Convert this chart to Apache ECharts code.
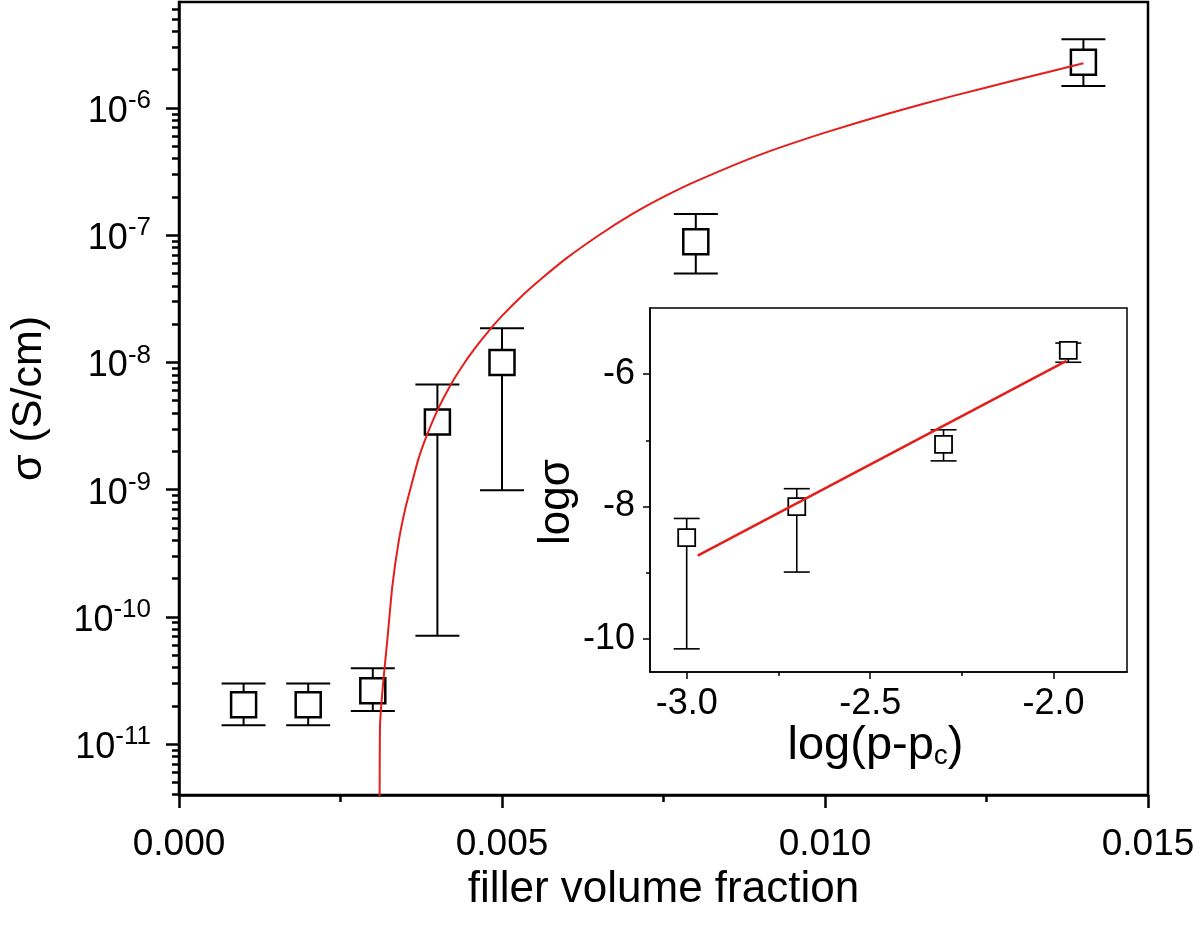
<!DOCTYPE html>
<html><head><meta charset="utf-8">
<script src="https://cdn.jsdelivr.net/npm/echarts@6/dist/echarts.min.js"></script>
<style>html,body{margin:0;padding:0;background:#fff}#c{width:1200px;height:930px}</style>
</head><body><div id="c"></div>
<script>
// ---- main plot data ----
const mainX = [0.001, 0.002, 0.003, 0.004, 0.005, 0.008, 0.014];
const mainSigma = [2.04e-11, 2.04e-11, 2.63e-11, 3.4e-9, 1.0e-8, 8.9e-8, 2.29e-6];
const mainErrHigh = [3.0e-11, 3.0e-11, 3.94e-11, 6.7e-9, 1.86e-8, 1.47e-7, 3.47e-6];
const mainErrLow = [1.41e-11, 1.41e-11, 1.82e-11, 7.1e-11, 9.9e-10, 5.0e-8, 1.49e-6];
// fitted percolation curve
const fitX = [0.003105, 0.00311, 0.00313, 0.003165, 0.003225, 0.0033, 0.0034, 0.0035, 0.0036, 0.0037, 0.0038, 0.0040, 0.0042, 0.0044, 0.0046, 0.0048, 0.0050, 0.0053, 0.0056, 0.006, 0.0065, 0.007, 0.0075, 0.008, 0.009, 0.010, 0.011, 0.012, 0.013, 0.014];
const fitSigma = [3e-12, 1.3e-11, 2.0e-11, 3.2e-11, 6.6e-11, 1.7e-10, 3.9e-10, 7.0e-10, 1.1e-9, 1.7e-9, 2.4e-9, 4.2e-9, 6.6e-9, 9.6e-9, 1.33e-8, 1.78e-8, 2.32e-8, 3.3e-8, 4.5e-8, 6.6e-8, 1.0e-7, 1.45e-7, 2.0e-7, 2.65e-7, 4.3e-7, 6.4e-7, 9.1e-7, 1.25e-6, 1.68e-6, 2.25e-6];
// tick labels
const mainXTicks = [0, 0.005, 0.010, 0.015];
const mainYDecades = [-11, -10, -9, -8, -7, -6];

// ---- inset data ----
const insetX = [-3.0, -2.70, -2.30, -1.96];
const insetLogSigma = [-8.47, -8.00, -7.06, -5.64];
const insetErrHigh = [-8.18, -7.73, -6.84, -5.53];
const insetErrLow = [-10.15, -8.99, -7.31, -5.82];
const insetFitX = [-2.97, -1.965];
const insetFitY = [-8.74, -5.80];
const insetXTicks = [-3.0, -2.5, -2.0];
const insetXMinor = [-2.75, -2.25];
const insetYTicks = [-10, -8, -6];
const insetYMinor = [-9, -7];

const FONT = '"Liberation Sans", Arial, Helvetica, sans-serif';
const majorY = mainYDecades.map(e => Math.pow(10, e));
const minorY = [];
for (let e = -12; e <= -6; e++) for (let k = 2; k <= 9; k++) minorY.push(k * Math.pow(10, e));

function errRender(capHalf, lw) {
  return function (params, api) {
    const x = api.value(0), lo = api.value(1), hi = api.value(2);
    const a = api.coord([x, hi]), b = api.coord([x, lo]);
    const st = { stroke: '#000', lineWidth: lw, fill: null };
    return { type: 'group', children: [
      { type: 'line', shape: { x1: a[0], y1: a[1], x2: b[0], y2: b[1] }, style: st },
      { type: 'line', shape: { x1: a[0] - capHalf, y1: a[1], x2: a[0] + capHalf, y2: a[1] }, style: st },
      { type: 'line', shape: { x1: b[0] - capHalf, y1: b[1], x2: b[0] + capHalf, y2: b[1] }, style: st }
    ]};
  };
}

const blk = '#000';
const yMin = Math.pow(10, -11.4), yMax = Math.pow(10, -5.167);

const option = {
  animation: false,
  backgroundColor: '#fff',
  textStyle: { fontFamily: FONT },
  grid: [
    { left: 178, right: 52, top: 2, bottom: 135, show: true, borderColor: blk, borderWidth: 2.5, backgroundColor: 'transparent' },
    { left: 650, right: 73, top: 308, bottom: 258, show: true, borderColor: blk, borderWidth: 1.5, backgroundColor: '#fff' }
  ],
  xAxis: [
    { type: 'value', gridIndex: 0, min: 0, max: 0.015, interval: 0.005,
      axisLine: { lineStyle: { color: blk, width: 2.5 } },
      axisTick: { length: 13, lineStyle: { color: blk, width: 2.5 } },
      minorTick: { show: true, splitNumber: 2, length: 7, lineStyle: { color: blk, width: 2.5 } },
      splitLine: { show: false }, minorSplitLine: { show: false },
      axisLabel: { customValues: mainXTicks, formatter: v => v.toFixed(3), fontSize: 37, color: blk, margin: 31, fontFamily: FONT },
      name: 'filler volume fraction', nameLocation: 'middle', nameGap: 60,
      nameTextStyle: { fontSize: 44, color: blk, fontFamily: FONT } },
    { type: 'value', gridIndex: 1, min: -3.1, max: -1.8,
      axisLine: { lineStyle: { color: blk, width: 1.5 } },
      axisTick: { customValues: insetXTicks, length: 7, lineStyle: { color: blk, width: 1.5 } },
      axisLabel: { customValues: insetXTicks, formatter: v => v.toFixed(1), fontSize: 36, color: blk, margin: 14, fontFamily: FONT },
      splitLine: { show: false },
      name: 'log(p-p{s|c})', nameLocation: 'middle', nameGap: 50,
      nameTextStyle: { fontSize: 47, color: blk, fontFamily: FONT, padding: [0, 26, 0, 0],
        rich: { s: { fontSize: 28, color: blk, fontFamily: FONT, padding: [20, 0, 0, 0] } } } },
    { type: 'value', gridIndex: 1, min: -3.1, max: -1.8, position: 'bottom',
      axisLine: { show: false }, axisLabel: { show: false }, splitLine: { show: false },
      axisTick: { customValues: insetXMinor, length: 4, lineStyle: { color: blk, width: 1.5 } } }
  ],
  yAxis: [
    { type: 'log', gridIndex: 0, min: yMin, max: yMax, position: 'left',
      axisLine: { lineStyle: { color: blk, width: 2.5 } },
      axisTick: { customValues: majorY, length: 13, lineStyle: { color: blk, width: 2.5 } },
      axisLabel: { customValues: majorY, margin: 28, color: blk,
        formatter: v => '{m|10}{e|' + Math.round(Math.log10(v)) + '}',
        rich: { m: { fontSize: 36, color: blk, fontFamily: FONT, padding: [8, 0, 0, 0] },
                e: { fontSize: 26, color: blk, fontFamily: FONT, padding: [0, 0, 14, 0] } } },
      splitLine: { show: false }, minorTick: { show: false },
      name: 'σ (S/cm)', nameLocation: 'middle', nameRotate: 90, nameGap: 128,
      nameTextStyle: { fontSize: 43, color: blk, fontFamily: FONT } },
    { type: 'log', gridIndex: 0, min: yMin, max: yMax, position: 'left',
      axisLine: { show: false }, axisLabel: { show: false }, splitLine: { show: false },
      axisTick: { customValues: minorY, length: 7, lineStyle: { color: blk, width: 2.5 } } },
    { type: 'value', gridIndex: 1, min: -10.5, max: -5, position: 'left',
      axisLine: { lineStyle: { color: blk, width: 1.5 } },
      axisTick: { customValues: insetYTicks, length: 7, lineStyle: { color: blk, width: 1.5 } },
      axisLabel: { customValues: insetYTicks, fontSize: 36, color: blk, margin: 15, fontFamily: FONT },
      splitLine: { show: false },
      name: 'logσ', nameLocation: 'middle', nameRotate: 90, nameGap: 68,
      nameTextStyle: { fontSize: 44, color: blk, fontFamily: FONT, padding: [0, 24, 0, 0] } },
    { type: 'value', gridIndex: 1, min: -10.5, max: -5, position: 'left',
      axisLine: { show: false }, axisLabel: { show: false }, splitLine: { show: false },
      axisTick: { customValues: insetYMinor, length: 4, lineStyle: { color: blk, width: 1.5 } } }
  ],
  series: [
    { type: 'custom', xAxisIndex: 0, yAxisIndex: 0, z: 2, renderItem: errRender(22, 2),
      encode: { x: 0, y: [1, 2] },
      data: mainX.map((x, i) => [x, mainErrLow[i], mainErrHigh[i]]) },
    { type: 'scatter', xAxisIndex: 0, yAxisIndex: 0, z: 3, symbol: 'rect', symbolSize: 25,
      itemStyle: { color: '#fff', borderColor: blk, borderWidth: 2.5, opacity: 1 },
      data: mainX.map((x, i) => [x, mainSigma[i]]) },
    { type: 'line', xAxisIndex: 0, yAxisIndex: 0, z: 4, showSymbol: false, smooth: 0.15, clip: true,
      lineStyle: { color: '#e41e1a', width: 2 },
      data: fitX.map((x, i) => [x, fitSigma[i]]) },
    { type: 'custom', xAxisIndex: 1, yAxisIndex: 2, z: 5, renderItem: errRender(13, 1.6),
      encode: { x: 0, y: [1, 2] },
      data: insetX.map((x, i) => [x, insetErrLow[i], insetErrHigh[i]]) },
    { type: 'scatter', xAxisIndex: 1, yAxisIndex: 2, z: 6, symbol: 'rect', symbolSize: 17,
      itemStyle: { color: '#fff', borderColor: blk, borderWidth: 1.8, opacity: 1 },
      data: insetX.map((x, i) => [x, insetLogSigma[i]]) },
    { type: 'line', xAxisIndex: 1, yAxisIndex: 2, z: 7, showSymbol: false,
      lineStyle: { color: '#e41e1a', width: 2.5 },
      data: insetFitX.map((x, i) => [x, insetFitY[i]]) }
  ]
};
const chart = echarts.init(document.getElementById('c'));
chart.setOption(option);
</script></body></html>
